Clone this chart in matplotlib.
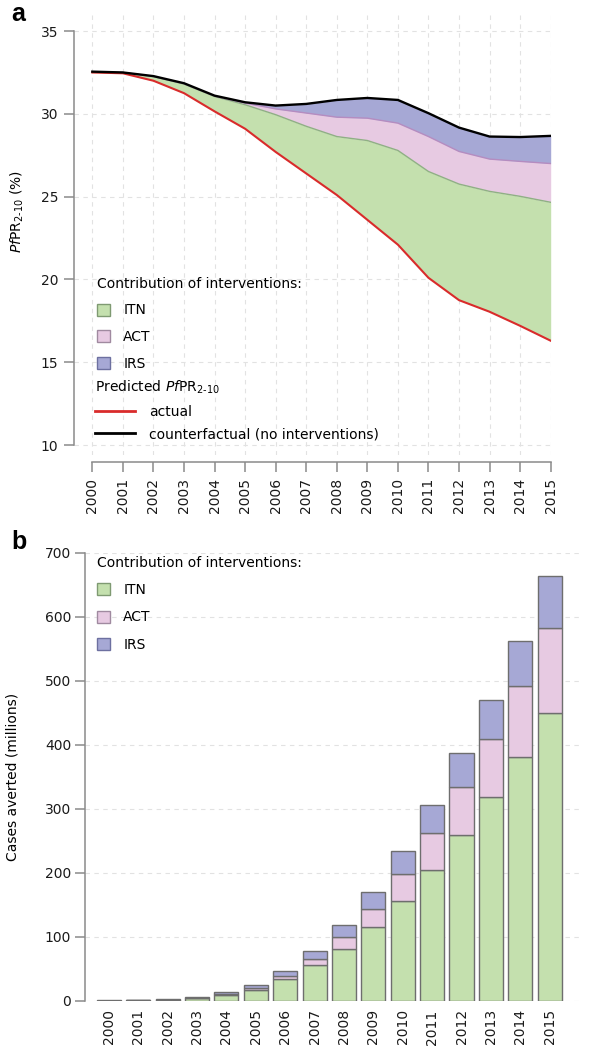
import numpy as np
import matplotlib
matplotlib.use('Agg')
import matplotlib.pyplot as plt
from matplotlib.patches import Patch
from matplotlib.lines import Line2D
import matplotlib.transforms as mtransforms

plt.rcParams['font.family'] = ['DejaVu Sans']
plt.rcParams['mathtext.fontset'] = 'dejavusans'
plt.rcParams['font.size'] = 10

# ---- data ----
years = list(range(2000, 2016))
# panel a: predicted PfPR2-10 (%)
actual = [32.5, 32.45, 32.0, 31.25, 30.15, 29.1, 27.7, 26.4, 25.1, 23.6,
          22.1, 20.1, 18.75, 18.05, 17.2, 16.3]
itn_top = [32.5, 32.5, 32.25, 31.8, 31.05, 30.55, 29.95, 29.25, 28.63, 28.39,
           27.79, 26.52, 25.76, 25.32, 25.02, 24.66]
act_top = [32.52, 32.5, 32.26, 31.83, 31.08, 30.65, 30.3, 30.05, 29.8, 29.74,
           29.44, 28.63, 27.73, 27.27, 27.13, 27.0]
counterfactual = [32.55, 32.5, 32.28, 31.85, 31.1, 30.7, 30.5, 30.6, 30.84, 30.96,
                  30.84, 30.04, 29.17, 28.63, 28.6, 28.67]
# panel b: cases averted (millions)
itn_cases = [0.5, 0.8, 1.5, 4, 9, 17.5, 34, 56, 81, 116, 157, 205, 259, 318, 381, 450]
act_cases = [0.2, 0.3, 0.5, 1, 1.5, 2.5, 4.5, 10, 19, 28, 41, 57, 75, 91, 111, 133]
irs_cases = [0.3, 0.4, 1, 2, 3, 5, 8, 12, 19, 27, 36, 45, 53, 62, 71, 81]

c_itn, c_act, c_irs = '#c4e0ae', '#e7cae2', '#a6a8d5'
e_itn, e_act, e_irs = '#7f9a72', '#a08aa0', '#6d70a0'
grid_kw = dict(color='#e2e2e2', linestyle=(0, (4, 4)), linewidth=0.8)
W, H = 589, 1050
FS = 10


def fx(px):
    return px / W


def fy(px):
    return 1 - px / H


def patches():
    return [Patch(facecolor=c_itn, edgecolor=e_itn, label='ITN'),
            Patch(facecolor=c_act, edgecolor=e_act, label='ACT'),
            Patch(facecolor=c_irs, edgecolor=e_irs, label='IRS')]


fig = plt.figure(figsize=(W / 100, H / 100), dpi=100)

# ---------------- panel a ----------------
ax = fig.add_axes([fx(74), fy(455), fx(551) - fx(74), fy(15) - fy(455)])
for s in ['top', 'right']:
    ax.spines[s].set_visible(False)
ax.spines['bottom'].set_position(('outward', 5))
ax.spines['left'].set_bounds(10, 35)
ax.spines['bottom'].set_bounds(2000, 2015)
for s in ['left', 'bottom']:
    ax.spines[s].set_color('#8a8a8a')
    ax.spines[s].set_linewidth(1.1)

ax.fill_between(years, actual, itn_top, color=c_itn, lw=0)
ax.fill_between(years, itn_top, act_top, color=c_act, lw=0)
ax.fill_between(years, act_top, counterfactual, color=c_irs, lw=0)
ax.plot(years, itn_top, color='#8fb084', lw=1.0)
ax.plot(years, act_top, color='#b58cc0', lw=1.0)
ax.plot(years, actual, color='#d92b2b', lw=1.5, zorder=5)
ax.plot(years, counterfactual, color='black', lw=1.7, zorder=6)
ax.set_xlim(1999.40, 2015.01)
ax.set_ylim(9.40, 35.97)
for y in [10, 15, 20, 25, 30, 35]:
    ax.axhline(y, zorder=0, **grid_kw)
for yr in years:
    ax.axvline(yr, zorder=0, **grid_kw)
ax.set_yticks([10, 15, 20, 25, 30, 35])
ax.set_xticks(years)
ax.set_xticklabels([str(y) for y in years], rotation=90)
ax.tick_params(axis='both', colors='#8a8a8a', length=7.5, width=1.1,
               labelcolor='#1a1a1a', labelsize=FS, pad=4)

leg1 = ax.legend(handles=patches(), title='Contribution of interventions:',
                 alignment='left', loc='upper left', bbox_to_anchor=(fx(97), fy(277)),
                 bbox_transform=fig.transFigure, frameon=False, borderpad=0,
                 borderaxespad=0, handlelength=0.95, handleheight=0.95,
                 handletextpad=0.95, labelspacing=0.9, fontsize=FS, title_fontsize=FS)
ax.add_artist(leg1)
ax.legend(handles=[Line2D([], [], color='#d92b2b', lw=2, label='actual'),
                   Line2D([], [], color='black', lw=2,
                          label='counterfactual (no interventions)')],
          title=r'Predicted $\mathit{Pf}\mathrm{PR}_{2\text{-}10}$', alignment='left',
          loc='upper left', bbox_to_anchor=(fx(95), fy(379)),
          bbox_transform=fig.transFigure, frameon=False, borderpad=0,
          borderaxespad=0, handlelength=2.9, handletextpad=1.0,
          labelspacing=0.6, fontsize=FS, title_fontsize=FS)

fig.text(fx(17), fy(211), r'$\mathit{Pf}\mathrm{PR}_{2\text{-}10}$ (%)', rotation=90,
         ha='center', va='center', fontsize=FS)
fig.text(fx(11), fy(14), 'a', fontsize=18, fontweight='bold', ha='left', va='center',
         family='Liberation Sans')

# ---------------- panel b ----------------
bx = fig.add_axes([fx(85), fy(1001), fx(580) - fx(85), fy(553) - fy(1001)])
for s in ['top', 'right', 'bottom']:
    bx.spines[s].set_visible(False)
bx.spines['left'].set_color('#8a8a8a')
bx.spines['left'].set_linewidth(1.1)

pos = np.arange(len(years))
itn_arr = np.array(itn_cases)
act_arr = np.array(act_cases)
irs_arr = np.array(irs_cases)
bar_kw = dict(width=0.82, edgecolor='#6e6e6e', linewidth=1.0, zorder=3)
bx.bar(pos, itn_arr, color=c_itn, **bar_kw)
bx.bar(pos, act_arr, bottom=itn_arr, color=c_act, **bar_kw)
bx.bar(pos, irs_arr, bottom=itn_arr + act_arr, color=c_irs, **bar_kw)
bx.set_xlim(-0.81, 16.03)
bx.set_ylim(0, 700)
for y in range(0, 701, 100):
    bx.axhline(y, zorder=0, **grid_kw)
bx.set_yticks(range(0, 701, 100))
bx.set_xticks(pos)
bx.set_xticklabels([str(y) for y in years], rotation=90)
shift = mtransforms.ScaledTranslation(4 / 100, 0, fig.dpi_scale_trans)
for lab in bx.get_xticklabels():
    lab.set_transform(lab.get_transform() + shift)
bx.tick_params(axis='y', colors='#8a8a8a', length=7, width=1.1,
               labelcolor='#1a1a1a', labelsize=FS, pad=3)
bx.tick_params(axis='x', length=0, labelcolor='#1a1a1a', labelsize=FS, pad=6)
bx.legend(handles=patches(), title='Contribution of interventions:',
          alignment='left', loc='upper left', bbox_to_anchor=(fx(97), fy(556)),
          bbox_transform=fig.transFigure, frameon=False, borderpad=0,
          borderaxespad=0, handlelength=0.95, handleheight=0.95,
          handletextpad=0.95, labelspacing=0.95, fontsize=FS, title_fontsize=FS)
fig.text(fx(13), fy(777), 'Cases averted (millions)', rotation=90,
         ha='center', va='center', fontsize=FS)
fig.text(fx(11), fy(542), 'b', fontsize=18, fontweight='bold', ha='left', va='center',
         family='Liberation Sans')

fig.savefig('out.png', dpi=100)
